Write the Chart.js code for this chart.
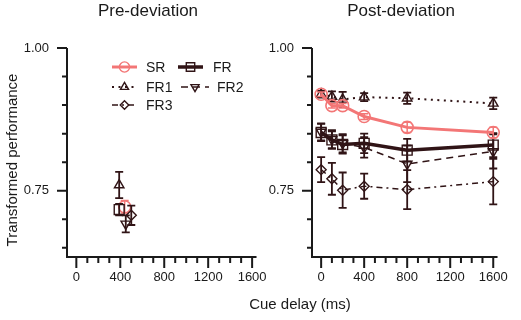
<!DOCTYPE html>
<html>
<head>
<meta charset="utf-8">
<script src="https://cdn.jsdelivr.net/npm/chart.js@4.4.1/dist/chart.umd.min.js"></script>
<style>
  body { margin: 0; background: #fff; width: 521px; height: 320px; position: relative; overflow: hidden;
         font-family: "Liberation Sans", Arial, sans-serif; color: #1a1a1a; }
  canvas { position: absolute; top: 0; }
  #pre-chart { left: 0; }
  #post-chart { left: 262px; }
  .lbl { position: absolute; white-space: nowrap; width: 200px; height: 20px; line-height: 20px; text-align: center; }
</style>
</head>
<body>
<canvas id="pre-chart" width="280" height="320"></canvas>
<canvas id="post-chart" width="259" height="320"></canvas>
<div class="lbl" style="left:48px;top:1px;font-size:17px">Pre-deviation</div>
<div class="lbl" style="left:301px;top:1px;font-size:17px">Post-deviation</div>
<div class="lbl" style="left:-88px;top:150px;font-size:15px;transform:rotate(-90deg)">Transformed performance</div>
<div class="lbl" style="left:200px;top:294px;font-size:15px">Cue delay (ms)</div>
<script>
// series names
const seriesNames = ['SR', 'FR', 'FR1', 'FR2', 'FR3']

// pre-deviation: one point per series (x jittered around 400 ms)
const preX = [440, 390, 390, 450, 500]
const preY = [0.722, 0.717, 0.760, 0.692, 0.707]
const preErr = [0.011, 0.010, 0.023, 0.015, 0.017]

// post-deviation
const delays = [0, 100, 200, 400, 800, 1600]
const srPost = [0.919, 0.899, 0.899, 0.880, 0.861, 0.852]
const frPost = [0.852, 0.839, 0.831, 0.833, 0.821, 0.830]
const fr1Post = [0.919, 0.915, 0.910, 0.914, 0.912, 0.903]
const fr2Post = [0.853, 0.840, 0.833, 0.826, 0.797, 0.819]
const fr3Post = [0.787, 0.771, 0.751, 0.758, 0.752, 0.766]
const srErr = [0.004, 0.004, 0.004, 0.005, 0.009, 0.009]
const frErr = [0.015, 0.015, 0.016, 0.017, 0.020, 0.021]
const fr1Err = [0.006, 0.009, 0.013, 0.007, 0.010, 0.010]
const fr2Err = [0.015, 0.016, 0.016, 0.018, 0.032, 0.030]
const fr3Err = [0.022, 0.028, 0.031, 0.022, 0.034, 0.040]

// axis ticks
const xTickLabels = [0, 400, 800, 1200, 1600]
const yTickLabels = [0.75, 1.00]
const xMinorTicks = []
for (let v = 0; v <= 1600; v += 100) xMinorTicks.push(v)
const yMinorTicks = [0.65, 0.70, 0.75, 0.80, 0.85, 0.90, 0.95, 1.00]

const PINK = '#f37676'
const DARK = '#301416'
const AXIS = '#1a1a1a'
const FONT = 'Liberation Sans, Arial, sans-serif'

const styles = {
  SR: { color: PINK, lineWidth: 3, dash: [], point: 'circle', radius: 6, rotation: 0 },
  FR: { color: DARK, lineWidth: 3.5, dash: [], point: 'rect', radius: 7, rotation: 0 },
  FR1: { color: DARK, lineWidth: 2, dash: [2, 4.5], point: 'triangle', radius: 5.5, rotation: 0 },
  FR2: { color: DARK, lineWidth: 1.5, dash: [7, 5], point: 'triangle', radius: 5.5, rotation: 180 },
  FR3: { color: DARK, lineWidth: 1.5, dash: [6, 4, 2, 4], point: 'rectRot', radius: 5, rotation: 0 }
}

function makeDataset(name, xs, ys, errs, showLine, order) {
  const s = styles[name]
  return {
    label: name,
    data: xs.map((x, i) => ({ x, y: ys[i] })),
    err: errs,
    showLine,
    order,
    borderColor: s.color,
    borderWidth: s.lineWidth,
    borderDash: s.dash,
    pointStyle: s.point,
    pointRadius: s.radius,
    pointRotation: s.rotation,
    pointBorderColor: s.color,
    pointBorderWidth: name === 'SR' ? 1.6 : 1.4,
    pointBackgroundColor: 'rgba(0,0,0,0)',
    tension: 0,
    clip: false
  }
}

// error bars, drawn right after each dataset
const errorBars = {
  id: 'errorBars',
  afterDatasetDraw(chart, args) {
    const ds = chart.data.datasets[args.index]
    if (!ds.err) return
    const { ctx } = chart
    const y = chart.scales.y
    ctx.save()
    ctx.strokeStyle = ds.borderColor
    ctx.lineWidth = ds.label === 'SR' ? 1.5 : 1.8
    ctx.beginPath()
    args.meta.data.forEach((pt, i) => {
      const v = ds.data[i].y
      const top = y.getPixelForValue(v + ds.err[i])
      const bot = y.getPixelForValue(v - ds.err[i])
      ctx.moveTo(pt.x, top); ctx.lineTo(pt.x, bot)
      ctx.moveTo(pt.x - 4, top); ctx.lineTo(pt.x + 4, top)
      ctx.moveTo(pt.x - 4, bot); ctx.lineTo(pt.x + 4, bot)
    })
    ctx.stroke()
    ctx.restore()
  }
}

// axis lines with major / minor ticks
const axisTicks = {
  id: 'axisTicks',
  afterDraw(chart) {
    const { ctx, chartArea: a } = chart
    const { x, y } = chart.scales
    ctx.save()
    ctx.strokeStyle = AXIS
    ctx.lineWidth = 2
    ctx.beginPath()
    ctx.moveTo(a.left, a.top); ctx.lineTo(a.left, a.bottom + 1)
    ctx.moveTo(a.left - 1, a.bottom); ctx.lineTo(a.right, a.bottom)
    xMinorTicks.forEach(v => {
      const px = x.getPixelForValue(v)
      const len = xTickLabels.includes(v) ? 11 : 6
      ctx.moveTo(px, a.bottom); ctx.lineTo(px, a.bottom + len)
    })
    yMinorTicks.forEach(v => {
      const py = y.getPixelForValue(v)
      const len = yTickLabels.some(t => Math.abs(t - v) < 1e-6) ? 10 : 5
      ctx.moveTo(a.left, py); ctx.lineTo(a.left - len, py)
    })
    ctx.stroke()
    ctx.restore()
  }
}

function drawMarker(ctx, s, cx, cy) {
  ctx.beginPath()
  const r = s.radius
  if (s.point === 'circle') {
    ctx.arc(cx, cy, r, 0, Math.PI * 2)
  } else if (s.point === 'rect') {
    const h = r * Math.SQRT1_2
    ctx.rect(cx - h, cy - h, 2 * h, 2 * h)
  } else if (s.point === 'rectRot') {
    ctx.moveTo(cx, cy - r); ctx.lineTo(cx + r, cy); ctx.lineTo(cx, cy + r); ctx.lineTo(cx - r, cy); ctx.closePath()
  } else {
    const k = s.rotation ? -1 : 1
    const e = 1.5 * r / Math.sqrt(3)
    ctx.moveTo(cx, cy - k * r); ctx.lineTo(cx + e, cy + k * r / 2); ctx.lineTo(cx - e, cy + k * r / 2); ctx.closePath()
  }
  ctx.stroke()
}

// legend inside the pre-deviation panel
const legendItems = [
  { name: 'SR', x: 112, y: 67, len: 25, tx: 146 },
  { name: 'FR', x: 178, y: 67, len: 25, tx: 213 },
  { name: 'FR1', x: 112, y: 87, len: 25, tx: 146 },
  { name: 'FR2', x: 181, y: 87, len: 28, tx: 217 },
  { name: 'FR3', x: 112, y: 105, len: 25, tx: 146 }
]
const legendPlugin = {
  id: 'sampleLegend',
  afterDraw(chart) {
    const { ctx } = chart
    ctx.save()
    legendItems.forEach(item => {
      const s = styles[item.name]
      ctx.strokeStyle = s.color
      ctx.lineWidth = s.lineWidth
      ctx.setLineDash(s.dash)
      ctx.beginPath()
      ctx.moveTo(item.x, item.y); ctx.lineTo(item.x + item.len, item.y)
      ctx.stroke()
      ctx.setLineDash([])
      ctx.lineWidth = 1.4
      drawMarker(ctx, { ...s, radius: s.radius * 0.85 }, item.x + item.len / 2, item.y)
      ctx.fillStyle = AXIS
      ctx.font = '14px ' + FONT
      ctx.textBaseline = 'middle'
      ctx.fillText(item.name, item.tx, item.y + 1)
    })
    ctx.restore()
  }
}

function baseOptions(yWidth, padRight) {
  return {
    responsive: false,
    animation: false,
    layout: { padding: { top: 48, right: padRight, bottom: 0, left: 0 } },
    plugins: { legend: { display: false }, tooltip: { enabled: false } },
    scales: {
      x: {
        type: 'linear', min: -85, max: 1640,
        grid: { display: false, drawTicks: false },
        border: { display: false },
        afterBuildTicks: s => { s.ticks = xTickLabels.map(v => ({ value: v })) },
        afterFit: s => { s.height = 63 },
        ticks: { font: { family: FONT, size: 13 }, color: AXIS, padding: 13, maxRotation: 0, autoSkip: false,
                 callback: v => String(v) }
      },
      y: {
        type: 'linear', min: 0.634, max: 1.0,
        grid: { display: false, drawTicks: false },
        border: { display: false },
        afterBuildTicks: s => { s.ticks = yTickLabels.map(v => ({ value: v })) },
        afterFit: s => { s.width = yWidth },
        ticks: { font: { family: FONT, size: 13 }, color: AXIS, padding: 18, callback: v => v.toFixed(2) }
      }
    }
  }
}

new Chart(document.getElementById('pre-chart'), {
  type: 'line',
  data: {
    datasets: seriesNames.map((n, i) =>
      makeDataset(n, [preX[i]], [preY[i]], [preErr[i]], false, n === 'SR' ? 9 : i))
  },
  options: baseOptions(67, 18),
  plugins: [errorBars, axisTicks, legendPlugin]
})

const postSeries = { SR: [srPost, srErr], FR: [frPost, frErr], FR1: [fr1Post, fr1Err], FR2: [fr2Post, fr2Err], FR3: [fr3Post, fr3Err] }
new Chart(document.getElementById('post-chart'), {
  type: 'line',
  data: {
    datasets: seriesNames.map((n, i) =>
      makeDataset(n, delays, postSeries[n][0], postSeries[n][1], true, i))
  },
  options: baseOptions(50, 13),
  plugins: [errorBars, axisTicks]
})
</script>
</body>
</html>
